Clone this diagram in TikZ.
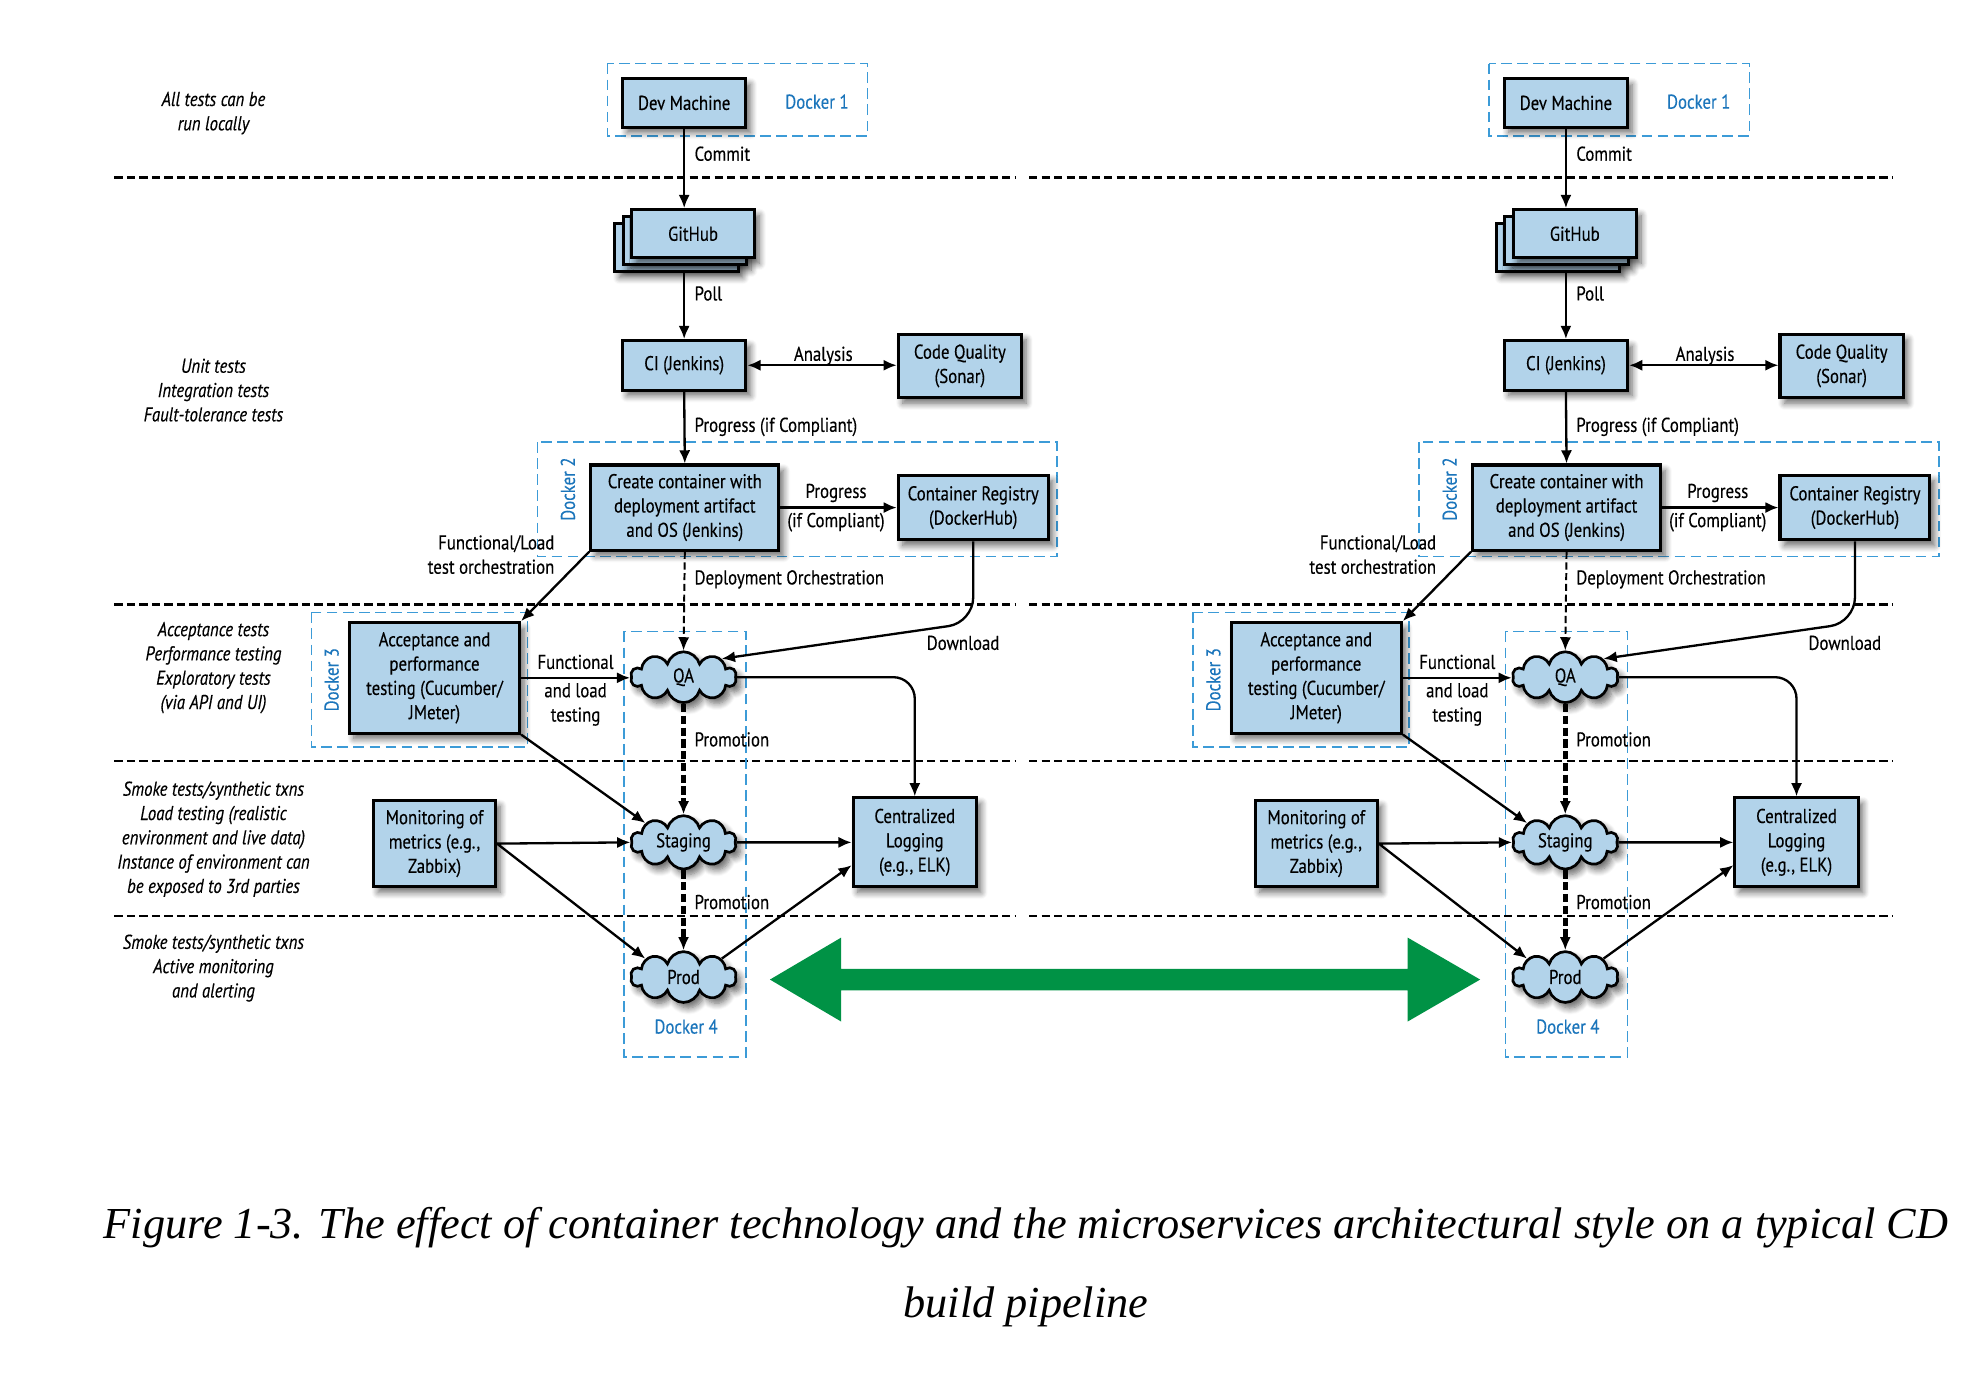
\documentclass[tikz,border=0pt]{standalone}
\usepackage{fontspec}
\setmainfont{Liberation Serif}
\newfontfamily\myr{PT Sans}[FakeStretch=0.84, FakeBold=0.3]
\usepackage{tikz}
\usetikzlibrary{arrows.meta,shapes.symbols,shadows.blur}
\definecolor{boxblue}{RGB}{178,211,234}
\definecolor{dockblue}{RGB}{27,117,187}
\definecolor{dashblue}{RGB}{60,155,215}
\definecolor{arrgreen}{RGB}{0,146,69}

\begin{document}
\begin{tikzpicture}[x=0.25mm, y=-0.25mm, font=\myr\fontsize{11.2}{13.6}\selectfont,
      shade/.style={blur shadow={shadow xshift=0.9mm, shadow yshift=-1.1mm, shadow blur radius=1.3mm, shadow blur steps=8, shadow opacity=60}},
      box/.style={draw, line width=1.7pt, fill=boxblue, align=center, inner sep=1pt, shade},
      cld/.style={cloud, cloud puffs=10, aspect=2.1, draw, line width=1.5pt, fill=boxblue, inner sep=0pt,
        minimum width=20.75mm, minimum height=10mm, shade},
      arr/.style={-{Latex[length=2.6mm,width=2.2mm]}, line width=1.3pt},
      arrs/.style={{Latex[length=2.6mm,width=2.2mm]}-{Latex[length=2.6mm,width=2.2mm]}, line width=1.3pt},
      promo/.style={arr, line width=3pt, dash pattern=on 4.6pt off 2pt},
      deploy/.style={arr, line width=1.1pt, dash pattern=on 4pt off 2pt},
      sep/.style={line width=1.6pt, dash pattern=on 4.6pt off 2.4pt},
      dock/.style={draw=dashblue, line width=0.8pt, dash pattern=on 6pt off 3pt},
      dlbl/.style={text=dockblue},
      lbl/.style={inner sep=1pt},
      side/.style={align=center, font=\myr\itshape\fontsize{11.2}{13.6}\selectfont}]
    \useasboundingbox (0,0) rectangle (1560,1081.5);

    \foreach \y in {140,476,599,721} {
      \draw[sep] (90,\y) -- (800,\y);
      \draw[sep] (810,\y) -- (1490,\y);
    }

    \node[side] (all) at (168,89) {All tests can be\\run locally};
    \node[side] (unit) at (168,307) {Unit tests\\Integration tests\\Fault-tolerance tests};
    \node[side] (acct) at (168,525.5) {Acceptance tests\\Performance testing\\Exploratory tests\\(via API and UI)};
    \node[side] (smoke) at (168,660.5) {Smoke tests/synthetic txns\\Load testing (realistic\\environment and live data)\\Instance of environment can\\be exposed to 3rd parties};
    \node[side] (alert) at (168,762) {Smoke tests/synthetic txns\\Active monitoring\\and alerting};

    \foreach \dx/\p in {0/l,694/r} {
    \begin{scope}[shift={(\dx,0)}]
      \draw[dock] (478,50) rectangle (683,107);
      \draw[dock] (423,348) rectangle (832,438);
      \draw[dock] (245,482) rectangle (415,588);
      \draw[dock] (491,497) rectangle (587,832);
      \node[dlbl] (dk1\p) at (643,80) {Docker 1};
      \node[dlbl, rotate=90] (dk2\p) at (447,385) {Docker 2};
      \node[dlbl, rotate=90] (dk3\p) at (261,535) {Docker 3};
      \node[dlbl] (dk4\p) at (540,808) {Docker 4};

      \node[box, minimum width=24.25mm, minimum height=9.5mm] (dev\p) at (538.5,81) {Dev Machine};
      \node[box, minimum width=24.25mm, minimum height=9.5mm] (gh3\p) at (532.5,195) {};
      \node[box, minimum width=24.25mm, minimum height=9.5mm] (gh2\p) at (539,189.5) {};
      \node[box, minimum width=24.25mm, minimum height=9.5mm] (gh\p) at (545.5,184) {GitHub};
      \node[box, minimum width=24.25mm, minimum height=9.75mm] (ci\p) at (538.5,287.5) {CI (Jenkins)};
      \node[box, minimum width=24.25mm, minimum height=12.5mm] (cq\p) at (755.5,288) {Code Quality\\(Sonar)};
      \node[box, minimum width=37mm, minimum height=16.75mm] (mk\p) at (539,399.5) {Create container with\\deployment artifact\\and OS (Jenkins)};
      \node[box, minimum width=29.5mm, minimum height=12.75mm] (reg\p) at (766,399.5) {Container Registry\\(DockerHub)};
      \node[box, minimum width=33.5mm, minimum height=21.75mm] (acc\p) at (342,533.5) {Acceptance and\\performance\\testing (Cucumber/\\JMeter)};
      \node[box, minimum width=24mm, minimum height=17mm] (mon\p) at (342,664) {Monitoring of\\metrics (e.g.,\\Zabbix)};
      \node[box, minimum width=24.25mm, minimum height=17.5mm] (log\p) at (720,663) {Centralized\\Logging\\(e.g., ELK)};
      \node[cld] (qa\p) at (538,533) {QA};
      \node[cld] (stg\p) at (538,663) {Staging};
      \node[cld] (prd\p) at (538,769) {Prod};

      \draw[arr] (dev\p.south) -- (dev\p.south |- gh\p.north);
      \draw[arr] (ci\p.north |- gh3\p.south) -- (ci\p.north);
      \draw[arrs] (ci\p.east) -- (ci\p.east -| cq\p.west);
      \draw[arr] (ci\p.south) -- (mk\p.north);
      \draw[arr] (mk\p.east) -- (mk\p.east -| reg\p.west);
      \draw[arr] (mk\p.south west) -- (acc\p.north east);
      \draw[deploy] (mk\p.south) -- (qa\p.north);
      \draw[arr, rounded corners=14] (reg\p.south) -- (reg\p.south |- 0,490) -- (qa\p.north east);
      \draw[arr] (acc\p.east) -- (acc\p.east -| qa\p.west);
      \draw[arr, rounded corners=12] (qa\p.east) -- (log\p.north |- qa\p.east) -- (log\p.north);
      \draw[promo] (qa\p.south) -- (stg\p.north);
      \draw[arr] (acc\p.south east) -- (stg\p.north west);
      \draw[arr] (mon\p.east) -- (stg\p.west);
      \draw[arr] (stg\p.east) -- (log\p.west);
      \draw[arr] (mon\p.east) -- (prd\p.north west);
      \draw[promo] (stg\p.south) -- (prd\p.north);
      \draw[arr] (prd\p.north east) -- ([yshift=-4.5mm]log\p.west);

      \node[lbl, anchor=west] (cm\p) at (545,121) {Commit};
      \node[lbl, anchor=west] (pl\p) at (545,231) {Poll};
      \node[lbl] (an\p) at (648,280) {Analysis};
      \node[lbl, anchor=west] (pc\p) at (545,336) {Progress (if Compliant)};
      \node[lbl] (pg\p) at (658,388) {Progress};
      \node[lbl] (ic\p) at (658,411) {(if Compliant)};
      \node[lbl, anchor=east, align=right] (fo\p) at (438,436.5) {Functional/Load\\test orchestration};
      \node[lbl, anchor=west] (do\p) at (545,456) {Deployment Orchestration};
      \node[lbl] (dl\p) at (758,506) {Download};
      \node[lbl] (fn\p) at (453,521) {Functional};
      \node[lbl, align=center] (lt\p) at (453,554.5) {and load\\testing};
      \node[lbl, anchor=west] (pm1\p) at (545,582) {Promotion};
      \node[lbl, anchor=west] (pm2\p) at (545,710) {Promotion};
    \end{scope}
    }

    \fill[arrgreen] (606,771) -- (662,738) -- (662,762.5) -- (1108,762.5) -- (1108,738) -- (1165,771)
      -- (1108,804) -- (1108,779.5) -- (662,779.5) -- (662,804) -- cycle;

    \node[anchor=base, font=\itshape\fontsize{24.8}{30}\selectfont] (cap1) at (807.5,975)
      {Figure 1-3. The effect of container technology and the microservices architectural style on a typical CD};
    \node[anchor=base, font=\itshape\fontsize{24.8}{30}\selectfont] (cap2) at (807.5,1037) {build pipeline};
\end{tikzpicture}
\end{document}
